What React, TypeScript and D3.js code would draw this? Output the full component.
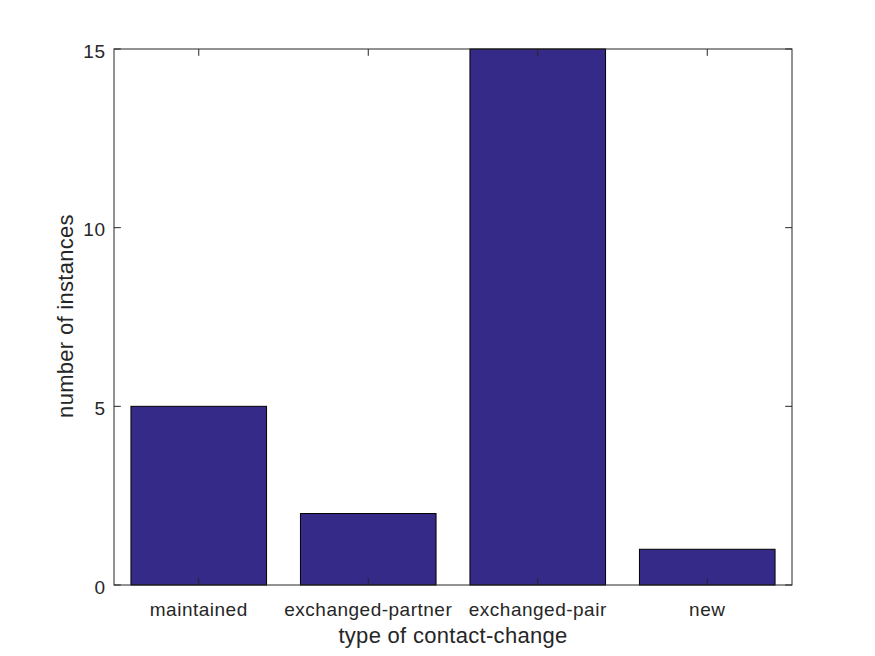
import React from "react";
import * as d3 from "d3";

const categories = ["maintained", "exchanged-partner", "exchanged-pair", "new"];
const counts = [5, 2, 15, 1];
const yTicks = [0, 5, 10, 15];

const W = 875, H = 656;
const L = 114, R = 792, T = 49, B = 585;
const axisColor = "#262626";
const font = "'Liberation Sans', Arial, Helvetica, sans-serif";

export default function App() {
  const x = d3.scaleLinear().domain([0.5, categories.length + 0.5]).range([L, R]);
  const y = d3.scaleLinear().domain([0, 15]).range([B, T]);
  const bw = 0.8;
  const tl = 6.8;
  return (
    <svg width={W} height={H} style={{ position: "absolute", left: 0, top: 0, background: "#fff" }}>
      <rect x={0} y={0} width={W} height={H} fill="#fff" />
      {counts.map((v, i) => (
        <rect
          key={i}
          x={x(i + 1 - bw / 2)}
          y={y(v)}
          width={x(i + 1 + bw / 2) - x(i + 1 - bw / 2)}
          height={y(0) - y(v)}
          fill="#352a87"
          stroke="#000"
          strokeWidth={1}
        />
      ))}
      <rect x={L} y={T} width={R - L} height={B - T} fill="none" stroke={axisColor} strokeWidth={1} />
      {categories.map((c, i) => (
        <g key={c}>
          <line x1={x(i + 1)} x2={x(i + 1)} y1={B} y2={B - tl} stroke={axisColor} />
          <line x1={x(i + 1)} x2={x(i + 1)} y1={T} y2={T + tl} stroke={axisColor} />
          <text x={x(i + 1)} y={616} textAnchor="middle" fontSize={19} letterSpacing={0.5} fontFamily={font} fill={axisColor}>
            {c}
          </text>
        </g>
      ))}
      {yTicks.map((t) => (
        <g key={t}>
          <line x1={L} x2={L + tl} y1={y(t)} y2={y(t)} stroke={axisColor} />
          <line x1={R} x2={R - tl} y1={y(t)} y2={y(t)} stroke={axisColor} />
          <text x={105.5} y={y(t) + 8.5} textAnchor="end" fontSize={19} letterSpacing={0.5} fontFamily={font} fill={axisColor}>
            {t}
          </text>
        </g>
      ))}
      <text x={(L + R) / 2} y={643} textAnchor="middle" fontSize={22} letterSpacing={0.3} fontFamily={font} fill={axisColor}>
        type of contact-change
      </text>
      <text
        transform={`translate(73,316) rotate(-90)`}
        textAnchor="middle"
        fontSize={22}
        letterSpacing={0.3}
        fontFamily={font}
        fill={axisColor}
      >
        number of instances
      </text>
    </svg>
  );
}
